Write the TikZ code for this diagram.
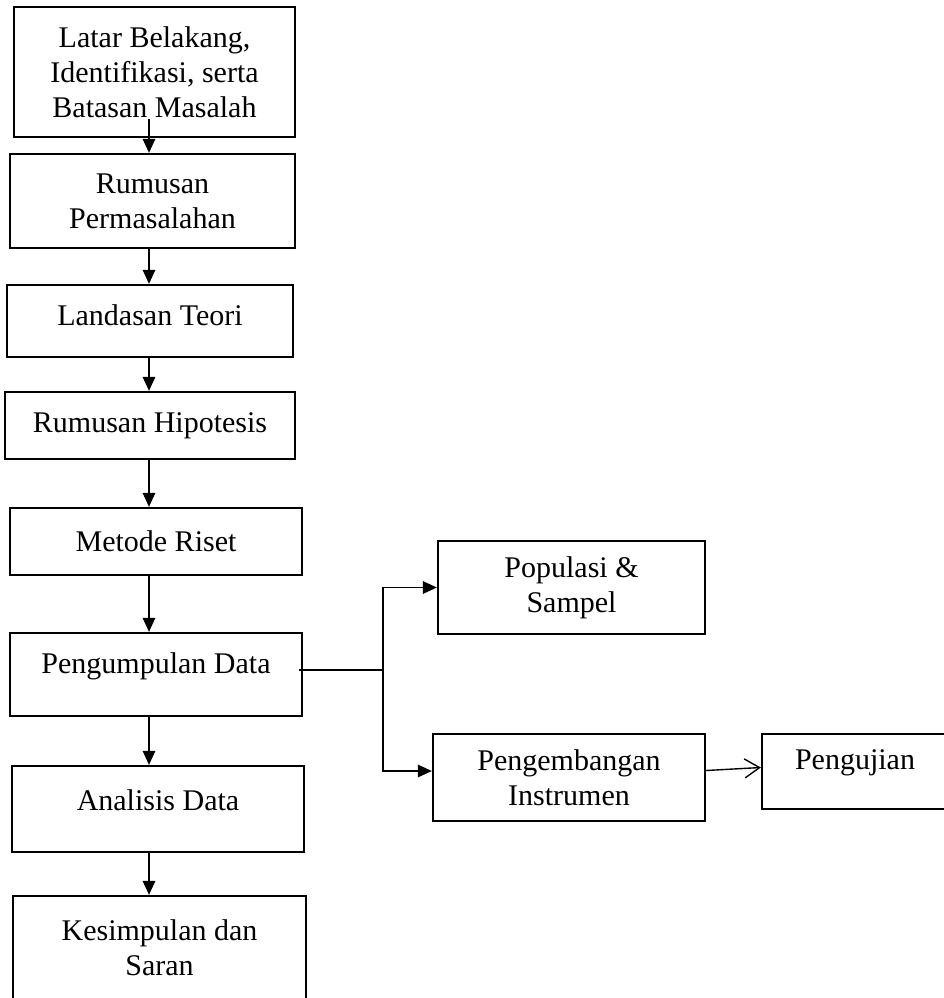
\documentclass[tikz,border=0pt]{standalone}
\usepackage{fontspec}
\setmainfont{Liberation Serif}
\usepackage{tikz}
\usetikzlibrary{arrows.meta}

\begin{document}
\begin{tikzpicture}[x=0.4pt,y=-0.4pt]
			\tikzstyle{every node}+=[inner sep=0pt, font=\fontsize{12}{14}\selectfont]
			\tikzstyle{kotak}=[draw=black, line width=0.9pt, rectangle, align=center]
			\tikzstyle{pfeil}=[line width=0.55pt, -{Triangle[width=5pt,length=5.6pt]}]
			\tikzstyle{garis}=[line width=0.55pt]
			\useasboundingbox (0,0) rectangle (943,998);
			\node [kotak, minimum width=112.4pt, minimum height=52pt] (latar) at (154.5,72) {Latar Belakang,\\Identifikasi, serta\\Batasan Masalah};
			\node [kotak, minimum width=114pt, minimum height=37.6pt] (rumusan) at (152.5,201) {Rumusan\\Permasalahan};
			\node [kotak, minimum width=114.4pt, minimum height=28.8pt, text depth=4.8pt] (landasan) at (150,321) {Landasan Teori};
			\node [kotak, minimum width=116pt, minimum height=26.8pt] (hipotesis) at (150,425.5) {Rumusan Hipotesis};
			\node [kotak, minimum width=116.8pt, minimum height=26.8pt] (metode) at (156,541.5) {Metode Riset};
			\node [kotak, minimum width=116.8pt, minimum height=33.2pt, text depth=9.4pt] (pengumpulan) at (156,674.5) {Pengumpulan Data};
			\node [kotak, minimum width=116.8pt, minimum height=34.4pt, text depth=7.2pt] (analisis) at (158,809) {Analisis Data};
			\node [kotak, minimum width=117.2pt, minimum height=41.6pt] (kesimpulan) at (159.5,948) {Kesimpulan dan\\Saran};
			\node [kotak, minimum width=106.8pt, minimum height=37.2pt] (populasi) at (571.5,587.5) {Populasi \&\\Sampel};
			\node [kotak, minimum width=108.8pt, minimum height=34.8pt] (pengembangan) at (569,777.5) {Pengembangan\\Instrumen};
			\node [kotak, minimum width=74.4pt, minimum height=30pt, text depth=9.4pt] (pengujian) at (855,771.5) {Pengujian};
			\coordinate (achse) at (149,0);
			\coordinate (cabang) at (383,670);
			\draw [pfeil] ([yshift=7.6pt]latar.south -| achse) -- (rumusan.north -| achse);
			\draw [pfeil] (rumusan.south -| achse) -- (landasan.north -| achse);
			\draw [pfeil] (landasan.south -| achse) -- (hipotesis.north -| achse);
			\draw [pfeil] (hipotesis.south -| achse) -- (metode.north -| achse);
			\draw [pfeil] (metode.south -| achse) -- (pengumpulan.north -| achse);
			\draw [pfeil] (pengumpulan.south -| achse) -- (analisis.north -| achse);
			\draw [pfeil] (analisis.south -| achse) -- (kesimpulan.north -| achse);
			\draw [garis] ([xshift=-1.6pt]pengumpulan.east |- cabang) -- (cabang);
			\draw [pfeil] (cabang) |- (populasi.west);
			\draw [pfeil] (cabang) |- ([yshift=2.6pt]pengembangan.west);
			\draw [line width=0.55pt, -{Straight Barb[width=7.6pt,length=6pt]}] ([yshift=2.8pt]pengembangan.east) -- ([yshift=1.6pt]pengujian.west);
\end{tikzpicture}
\end{document}
